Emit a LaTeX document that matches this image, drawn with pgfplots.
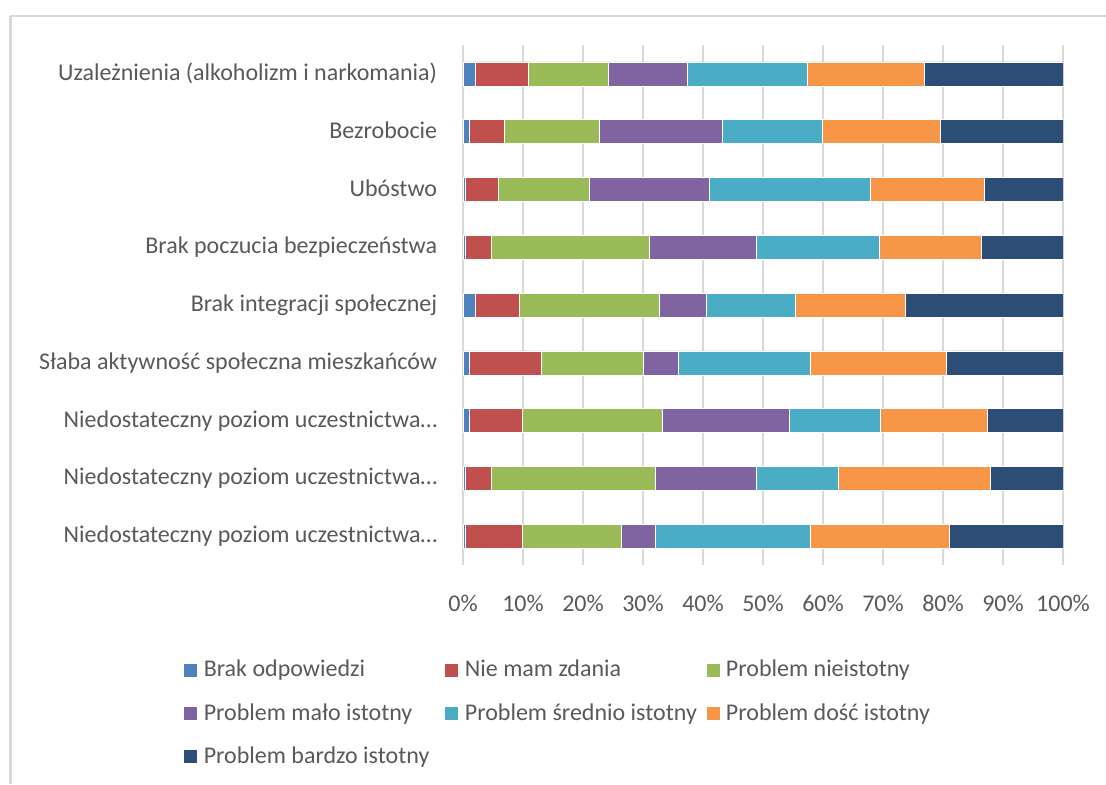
\documentclass[border=0pt]{standalone}
\usepackage{pgfplots}
\pgfplotsset{compat=1.18}
\usepackage{pgfplotstable}
\usepackage{fontspec}
\setmainfont{Carlito}
\definecolor{cA}{HTML}{4F81BD}
\definecolor{cB}{HTML}{C0504D}
\definecolor{cC}{HTML}{9BBB59}
\definecolor{cD}{HTML}{8064A2}
\definecolor{cE}{HTML}{4BACC6}
\definecolor{cF}{HTML}{F79646}
\definecolor{cG}{HTML}{2C4D75}
\definecolor{txt}{HTML}{595959}
\definecolor{grd}{HTML}{D9D9D9}
\newcommand{\lf}{\fontsize{12}{14.4}\selectfont}
\newcommand{\legtxt}[1]{\makebox[123.25pt][l]{\hspace*{2.9pt}#1}}
\pgfplotstableread{
y s1 s2 s3 s4 s5 s6 s7
0 2.0 8.9 13.3 13.2 19.9 19.5 23.2
1 1.1 5.8 15.8 20.5 16.7 19.6 20.5
2 0.4 5.4 15.3 20.0 26.8 18.9 13.2
3 0.4 4.3 26.3 17.9 20.5 16.9 13.7
4 2.1 7.3 23.3 7.9 14.7 18.4 26.3
5 1.1 12.0 16.9 5.8 22.1 22.6 19.5
6 1.1 8.8 23.3 21.1 15.3 17.8 12.6
7 0.4 4.3 27.4 16.8 13.7 25.3 12.1
8 0.4 9.5 16.4 5.8 25.8 23.2 18.9
}\datatable
\begin{document}
\begin{tikzpicture}
\path[use as bounding box] (0,0) rectangle (553pt,-392pt);
\draw[grd, line width=1pt] (5pt,-7.75pt) -- (553pt,-7.75pt);
\draw[grd, line width=1.2pt] (5.25pt,-7.75pt) -- (5.25pt,-392pt);
\begin{axis}[
  at={(231.5pt,-282.5pt)}, anchor=south west,
  scale only axis, width=300pt, height=260pt,
  xbar stacked, bar width=12pt,
  xmin=0, xmax=100, ymin=-0.5, ymax=8.5,
  y dir=reverse,
  xtick={0,10,...,100},
  xticklabel={\pgfmathprintnumber{\tick}\%},
  ytick={0,...,8},
  yticklabels={Uzależnienia (alkoholizm i narkomania),Bezrobocie,Ubóstwo,Brak poczucia bezpieczeństwa,Brak integracji społecznej,Słaba aktywność społeczna mieszkańców,Niedostateczny poziom uczestnictwa…,Niedostateczny poziom uczestnictwa…,Niedostateczny poziom uczestnictwa…},
  /pgf/number format/assume math mode=true,
  axis line style={draw=none},
  major tick style={draw=none},
  xmajorgrids, major grid style={grd, line width=0.75pt},
  xticklabel style={font=\lf, text=txt, inner sep=0pt, anchor=base, yshift=-23.3pt},
  yticklabel style={font=\lf, text=txt, inner sep=0pt, anchor=base east, xshift=-12.75pt, yshift=-3.3pt},
  legend columns=3,
  legend style={at={(-0.4667,-0.182)}, anchor=north west, draw=none, fill=none,
    font=\lf, text=txt, inner sep=0pt, row sep=11.8pt, column sep=0pt,
    nodes={inner sep=0pt}},
  legend cell align=left,
  legend image code/.code={\fill[#1] (0pt,-3.5pt) rectangle (7pt,3.5pt);},
  every axis plot/.append style={draw=white, line width=0.3pt},
]
\addplot[fill=cA] table[x=s1,y=y]{\datatable};
\addlegendentry{\legtxt{Brak odpowiedzi}}
\addplot[fill=cB] table[x=s2,y=y]{\datatable};
\addlegendentry{\legtxt{Nie mam zdania}}
\addplot[fill=cC] table[x=s3,y=y]{\datatable};
\addlegendentry{\legtxt{Problem nieistotny}}
\addplot[fill=cD] table[x=s4,y=y]{\datatable};
\addlegendentry{\legtxt{Problem mało istotny}}
\addplot[fill=cE] table[x=s5,y=y]{\datatable};
\addlegendentry{\legtxt{Problem średnio istotny}}
\addplot[fill=cF] table[x=s6,y=y]{\datatable};
\addlegendentry{\legtxt{Problem dość istotny}}
\addplot[fill=cG] table[x=s7,y=y]{\datatable};
\addlegendentry{\legtxt{Problem bardzo istotny}}
\end{axis}
\end{tikzpicture}
\end{document}
